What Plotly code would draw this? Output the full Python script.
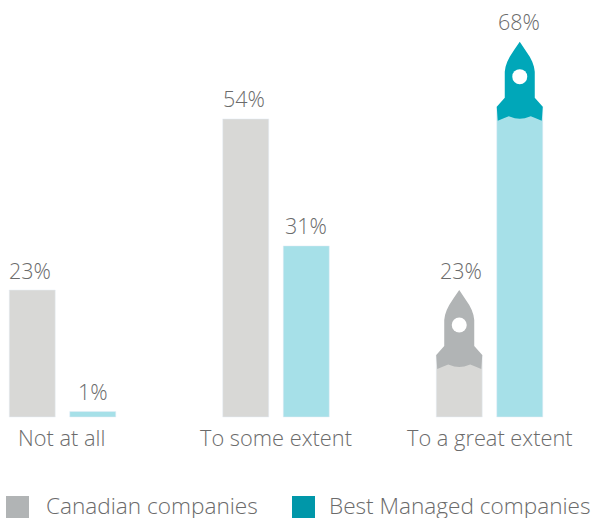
import plotly.graph_objects as go

categories = ["Not at all", "To some extent", "To a great extent"]
canadian = [23, 54, 23]
best = [1, 31, 68]
series_names = ["Canadian companies", "Best Managed companies"]

W, H = 594, 518
BASE = 417
PX_PER_PCT = 5.52
BAND = 213.5
C0 = 62.5
GAP = 0.433
GROUPGAP = 0.24
FONT = "Open Sans"
TXT = "#6b6b6b"

# rocket silhouette: (half-width px from centre, px below tip)
ROCKET = [(0, 0), (5.5, 8), (10, 15), (12.5, 20), (14.2, 25), (15, 30), (15, 56), (23, 65),
          (22, 79), (16, 76.5), (11, 74.5), (5, 76.5), (0, 77), (-5, 76.5), (-11, 74.5),
          (-16, 76.5), (-22, 79), (-23, 65), (-15, 56), (-15, 30), (-14.2, 25), (-12.5, 20),
          (-10, 15), (-5.5, 8), (0, 0)]
HOLE_DY = 35
MASK_HALF = 24.5
MASK_DY = 65
LABEL_NUDGE = {(0, 0): -2, (0, 1): -2, (0, 2): 2, (1, 2): -1}

step = (1 - GAP) / 2
fig = go.Figure()
fig.add_bar(x=[0, 1, 2], y=canadian, name=series_names[0], marker_color="#D8D8D6", showlegend=False)
fig.add_bar(x=[0, 1, 2], y=best, name=series_names[1], marker_color="#A6E0E8", showlegend=False)


def rocket(cx, value, color):
    # white mask hides the bar's top behind the nose, then the rocket sits over it
    mx = [cx - MASK_HALF / BAND, cx + MASK_HALF / BAND, cx + MASK_HALF / BAND, cx - MASK_HALF / BAND, cx - MASK_HALF / BAND]
    my = [value + 1 / PX_PER_PCT, value + 1 / PX_PER_PCT, value - MASK_DY / PX_PER_PCT, value - MASK_DY / PX_PER_PCT, value + 1 / PX_PER_PCT]
    fig.add_scatter(x=mx, y=my, mode="lines", fill="toself", fillcolor="white", line=dict(width=0),
                    showlegend=False, hoverinfo="skip")
    xs = [cx + dx / BAND for dx, _ in ROCKET]
    ys = [value - dy / PX_PER_PCT for _, dy in ROCKET]
    fig.add_scatter(x=xs, y=ys, mode="lines", fill="toself", fillcolor=color, line=dict(width=0),
                    showlegend=False, hoverinfo="skip")
    fig.add_scatter(x=[cx], y=[value - HOLE_DY / PX_PER_PCT], mode="markers",
                    marker=dict(color="white", size=15, line=dict(width=0)),
                    showlegend=False, hoverinfo="skip")


rocket(2 - step / 2, canadian[2], "#B1B4B5")
rocket(2 + step / 2, best[2], "#00A7B9")

for s, (vals, sign) in enumerate(((canadian, -1), (best, 1))):
    for i, v in enumerate(vals):
        fig.add_annotation(x=i + sign * step / 2, y=v, text=f"{v}%", showarrow=False, yanchor="bottom",
                           yshift=3.5, xshift=LABEL_NUDGE.get((s, i), 0),
                           font=dict(family=FONT, size=21.5, color=TXT, weight=300))

# legend
legend_items = [(6, 46, "#B1B4B5", series_names[0]), (292, 329, "#0097A9", series_names[1])]
for sx, tx, col, name in legend_items:
    fig.add_shape(type="rect", xref="paper", yref="paper", x0=sx / W, x1=(sx + 23) / W,
                  y0=0, y1=(H - 496) / H, fillcolor=col, line_width=0, layer="above")
    fig.add_annotation(xref="paper", yref="paper", x=tx / W, y=0, text=name, showarrow=False,
                       xanchor="left", yanchor="bottom", xshift=-2, yshift=-5,
                       font=dict(family=FONT, size=22.6, color=TXT, weight=300))

fig.update_layout(
    width=W, height=H, margin=dict(l=0, r=0, t=0, b=0), autosize=False,
    paper_bgcolor="white", plot_bgcolor="white",
    barmode="group", bargap=GAP, bargroupgap=GROUPGAP,
    xaxis=dict(range=[-C0 / BAND, (W - C0) / BAND], tickmode="array", tickvals=[0, 1, 2], ticktext=[""] * 3,
               showgrid=False, zeroline=False, showline=False, ticks="", fixedrange=True),
    yaxis=dict(range=[-(H - BASE) / PX_PER_PCT, BASE / PX_PER_PCT], visible=False, fixedrange=True),
)
for i, c in enumerate(categories):
    fig.add_annotation(x=i, y=0, text=c, showarrow=False, yanchor="top", yshift=-4, xshift=-1 if i == 0 else 0,
                       font=dict(family=FONT, size=21.8, color=TXT, weight=300))

fig.write_html("out.html", post_script="document.body.style.margin='0';document.body.style.overflow='hidden';",
               config={"displayModeBar": False})
